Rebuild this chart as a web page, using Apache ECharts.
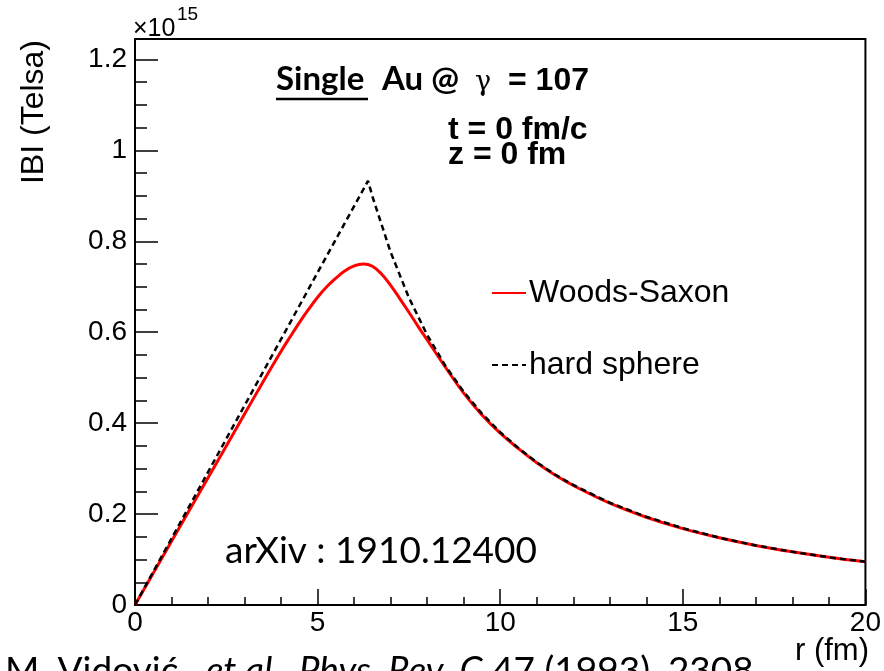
<!DOCTYPE html>
<html lang="en">
<head>
  <meta charset="UTF-8">
  <title>|B| vs r</title>
  <script src="https://cdn.jsdelivr.net/npm/echarts@6/dist/echarts.min.js"></script>
  <style>
    html, body { margin: 0; padding: 0; background: #fff; }
    #main { width: 884px; height: 671px; }
  </style>
</head>
<body>
  <div id="main"></div>
  <script>
    // |B| in units of 1e15 Tesla
    const rHard = [0, 6.38, 6.5, 7, 7.5, 8, 8.5, 9, 9.5, 10, 10.5, 11, 11.5, 12, 13, 14, 15, 16, 17, 18, 19, 20];
    const bHard = [0, 0.933, 0.899, 0.776, 0.676, 0.594, 0.526, 0.469, 0.421, 0.380, 0.345, 0.314, 0.287, 0.264, 0.225, 0.194, 0.169, 0.148, 0.131, 0.117, 0.105, 0.095];

    const rWS = [0, 1, 2, 3, 3.5, 4, 4.25, 4.5, 4.75, 5, 5.25, 5.5, 5.75, 6, 6.25, 6.5, 6.75, 7, 7.25, 7.5, 7.75, 8, 8.5, 9, 9.5, 10, 10.5, 11, 11.5, 12, 13, 14, 15, 16, 17, 18, 19, 20];
    const bWS = [0, 0.140, 0.280, 0.420, 0.490, 0.558, 0.590, 0.621, 0.650, 0.677, 0.700, 0.719, 0.735, 0.746, 0.750, 0.745, 0.728, 0.703, 0.674, 0.644, 0.613, 0.583, 0.523, 0.466, 0.418, 0.378, 0.344, 0.313, 0.286, 0.263, 0.224, 0.193, 0.168, 0.148, 0.131, 0.117, 0.105, 0.095];

    const seriesNames = ['Woods-Saxon', 'hard sphere'];

    const pairs = (xs, ys) => xs.map((x, i) => [x, ys[i]]);

    const root = 'Liberation Sans';
    const cal = 'Lato';

    // y is the vertical middle of the text line
    function txt(x, y, text, size, opts) {
      return {
        type: 'text', x: x, y: y,
        style: Object.assign({
          text: text, fontSize: size, fontFamily: root, fill: '#000', verticalAlign: 'middle'
        }, opts || {})
      };
    }

    const chart = echarts.init(document.getElementById('main'));
    chart.setOption({
      animation: false,
      grid: {
        left: 135, right: 12, top: 39, bottom: 66,
        show: true, borderColor: '#000', borderWidth: 2
      },
      legend: {
        orient: 'vertical',
        left: 486, top: 272,
        itemWidth: 34, itemHeight: 14, itemGap: 40,
        data: seriesNames,
        itemStyle: { opacity: 0 },
        textStyle: { fontFamily: root, fontSize: 32, color: '#000', padding: [0, 0, 0, -2] }
      },
      xAxis: {
        type: 'value', min: 0, max: 20, interval: 5,
        axisLine: { lineStyle: { color: '#000', width: 2 } },
        axisTick: { inside: true, length: 16, lineStyle: { color: '#000', width: 1.5 } },
        minorTick: { show: true, splitNumber: 5, length: 8, lineStyle: { color: '#000', width: 1.5 } },
        splitLine: { show: false },
        axisLabel: { fontFamily: root, fontSize: 28, color: '#000', margin: 4 }
      },
      yAxis: {
        type: 'value', min: 0, max: 1.245, interval: 0.2,
        axisLine: { lineStyle: { color: '#000', width: 2 } },
        axisTick: { inside: true, length: 23, lineStyle: { color: '#000', width: 1.5 } },
        minorTick: { show: true, splitNumber: 4, length: 12, lineStyle: { color: '#000', width: 1.5 } },
        splitLine: { show: false },
        axisLabel: {
          fontFamily: root, fontSize: 28, color: '#000', margin: 8,
          showMaxLabel: false
        }
      },
      series: [
        {
          name: seriesNames[0], type: 'line', data: pairs(rWS, bWS),
          smooth: 0.4, symbol: 'none',
          lineStyle: { color: '#ff0000', width: 3 },
          itemStyle: { color: '#ff0000' }
        },
        {
          name: seriesNames[1], type: 'line', data: pairs(rHard, bHard),
          symbol: 'none',
          lineStyle: { color: '#000', width: 2.5, type: [6, 4] },
          itemStyle: { color: '#000' }
        }
      ],
      graphic: [
        txt(133, 29, '×10', 25),
        txt(177, 15, '15', 19),
        {
          type: 'text', x: 34, y: 40, rotation: Math.PI / 2,
          style: { text: 'IBI (Telsa)', fontSize: 32, fontFamily: root, fill: '#000', align: 'right', verticalAlign: 'middle' }
        },
        txt(869, 651, 'r (fm)', 31, { align: 'right' }),
        txt(276, 79, 'Single', 33, { fontFamily: cal, fontWeight: 'bold' }),
        { type: 'line', shape: { x1: 276, y1: 99, x2: 368, y2: 99 }, style: { stroke: '#000', lineWidth: 2.5 } },
        txt(382, 79, 'Au @', 33, { fontFamily: cal, fontWeight: 'bold' }),
        txt(475, 83, 'γ', 27, { fontFamily: 'DejaVu Serif' }),
        txt(508, 81, '= 107', 32, { fontWeight: 'bold' }),
        txt(448, 130, 't = 0 fm/c', 32, { fontWeight: 'bold' }),
        txt(448, 155, 'z = 0 fm', 32, { fontWeight: 'bold' }),
        txt(225, 551, 'arXiv : 1910.12400', 37, { fontFamily: cal }),
        {
          type: 'text', x: 5, y: 671,
          style: {
            text: '{n|M. Vidović , }{i|et al.}{n|, }{i|Phys. Rev. C}{n| 47 (1993), 2308}',
            verticalAlign: 'middle',
            rich: {
              n: { fontSize: 37, fontFamily: cal, fill: '#000' },
              i: { fontSize: 37, fontFamily: cal, fontStyle: 'italic', fill: '#000' }
            }
          }
        }
      ]
    });
  </script>
</body>
</html>
